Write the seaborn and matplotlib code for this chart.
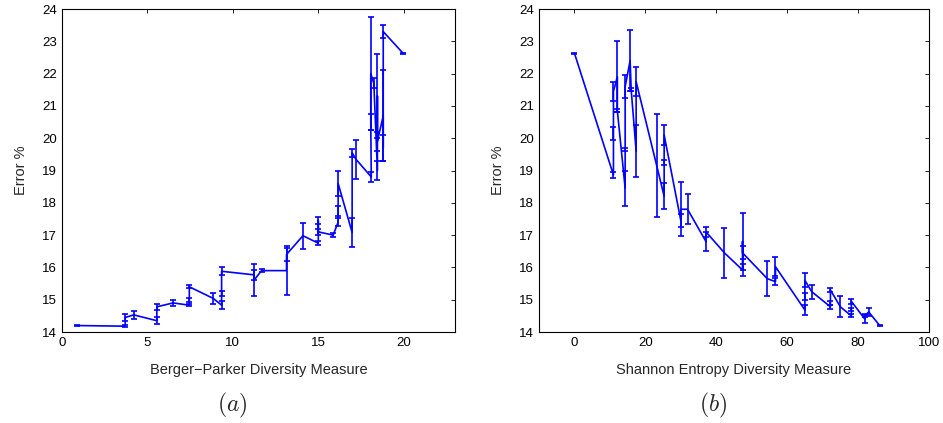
import numpy as np
import pandas as pd
import matplotlib
matplotlib.use("Agg")
import matplotlib.pyplot as plt
import seaborn as sns

# ---- Panel (a): Berger-Parker diversity ----
bp_x = [0.9, 3.7, 3.7, 4.2, 5.55, 5.55, 6.5, 7.45, 7.45, 7.45, 8.85, 9.34, 9.34, 9.34,
        11.23, 11.23, 11.68, 13.14, 13.14, 14.1, 15.0, 15.0, 15.0, 15.87, 16.16, 16.16,
        16.16, 16.98, 16.98, 17.2, 18.1, 18.07, 18.07, 18.25, 18.46, 18.46, 18.46,
        18.8, 18.8, 18.8, 19.96]
bp_y = [14.20, 14.18, 14.45, 14.53, 14.35, 14.78, 14.90, 14.83, 15.00, 15.40, 15.04,
        14.83, 15.20, 15.88, 15.77, 15.60, 15.90, 15.90, 16.40, 16.98, 16.75, 17.45,
        17.10, 17.00, 17.40, 17.75, 18.60, 17.08, 19.55, 19.35, 18.80, 20.50, 22.00,
        21.70, 19.00, 21.30, 19.90, 20.70, 19.70, 23.30, 22.63]
bp_e = [0.01, 0.04, 0.12, 0.12, 0.10, 0.09, 0.10, 0.04, 0.06, 0.05, 0.17, 0.12, 0.08,
        0.12, 0.15, 0.50, 0.05, 0.75, 0.20, 0.40, 0.06, 0.10, 0.10, 0.07, 0.12, 0.15,
        0.40, 0.45, 0.12, 0.60, 0.15, 0.25, 1.75, 0.15, 0.30, 1.30, 0.30, 1.40, 0.40,
        0.20, 0.02]

# ---- Panel (b): Shannon entropy diversity ----
sh_x = [0.0, 11.0, 11.0, 11.0, 12.1, 12.1, 14.3, 14.3, 14.3, 15.7, 16.0, 17.4, 17.4,
        23.2, 25.3, 25.3, 25.3, 30.0, 30.0, 31.9, 37.1, 37.1, 42.3, 47.4, 47.4, 47.4,
        54.4, 56.7, 56.7, 65.0, 65.0, 65.0, 66.9, 72.2, 72.2, 72.2, 75.0, 78.1, 78.1,
        78.1, 81.9, 81.9, 83.0, 86.1]
sh_y = [22.63, 18.86, 20.15, 21.45, 21.90, 20.85, 18.45, 19.65, 21.60, 22.40, 21.50,
        19.60, 21.75, 19.15, 18.20, 19.25, 20.10, 17.45, 17.80, 17.80, 16.80, 17.10,
        16.45, 15.92, 16.80, 16.45, 15.65, 15.56, 16.02, 14.68, 15.10, 15.60, 15.25,
        14.78, 14.90, 15.30, 14.78, 14.50, 14.70, 14.95, 14.40, 14.50, 14.62, 14.20]
sh_e = [0.02, 0.10, 0.20, 0.30, 1.10, 0.04, 0.55, 0.05, 0.35, 0.95, 0.04, 0.80, 0.45,
        1.60, 0.40, 0.08, 0.30, 0.20, 0.83, 0.47, 0.30, 0.15, 0.77, 0.18, 0.87, 0.20,
        0.55, 0.10, 0.30, 0.15, 0.10, 0.22, 0.22, 0.07, 0.05, 0.05, 0.32, 0.05, 0.05,
        0.07, 0.12, 0.05, 0.12, 0.01]

bp_xticks = [0, 5, 10, 15, 20]
sh_xticks = [0, 20, 40, 60, 80, 100]
yticks = list(range(14, 25))

sns.set_style("white")
plt.rcParams['font.family'] = ['Liberation Sans', 'DejaVu Sans']
plt.rcParams['mathtext.fontset'] = 'cm'

fig = plt.figure(figsize=(9.43, 4.23), dpi=100)
W, H = 943, 423
ax1 = fig.add_axes([62 / W, 1 - 332 / H, (455 - 62) / W, (332 - 9) / H])
ax2 = fig.add_axes([539 / W, 1 - 332 / H, (929 - 539) / W, (332 - 9) / H])

blue = (0, 0, 1)

def panel(ax, xs, ys, es, xlim, xticks, xlabel):
    df = pd.DataFrame({"x": xs, "y": ys})
    sns.lineplot(data=df, x="x", y="y", sort=False, estimator=None, color=blue,
                 linewidth=1.2, ax=ax)
    ax.errorbar(xs, ys, yerr=es, fmt='none', ecolor=blue, elinewidth=1.2,
                capsize=2.5, capthick=1.2)
    ax.set_xlim(*xlim)
    ax.set_ylim(14, 24)
    ax.set_xticks(xticks)
    ax.set_yticks(yticks)
    ax.tick_params(direction='in', top=True, right=True, length=3, width=0.6,
                   labelsize=9.5, colors='black')
    for s in ax.spines.values():
        s.set_color('black')
        s.set_linewidth(0.8)
    ax.set_xlabel(xlabel, fontsize=10.5, labelpad=10)
    ax.set_ylabel("Error %", fontsize=10.5, labelpad=10)

panel(ax1, bp_x, bp_y, bp_e, (0, 23), bp_xticks, "Berger\u2212Parker Diversity Measure")
panel(ax2, sh_x, sh_y, sh_e, (-10, 100), sh_xticks, "Shannon Entropy Diversity Measure")

fig.text(232 / W, 1 - 405 / H, r"$(a)$", fontsize=17, ha='center', va='center')
fig.text(713 / W, 1 - 405 / H, r"$(b)$", fontsize=17, ha='center', va='center')

fig.savefig("out.png", dpi=100)
